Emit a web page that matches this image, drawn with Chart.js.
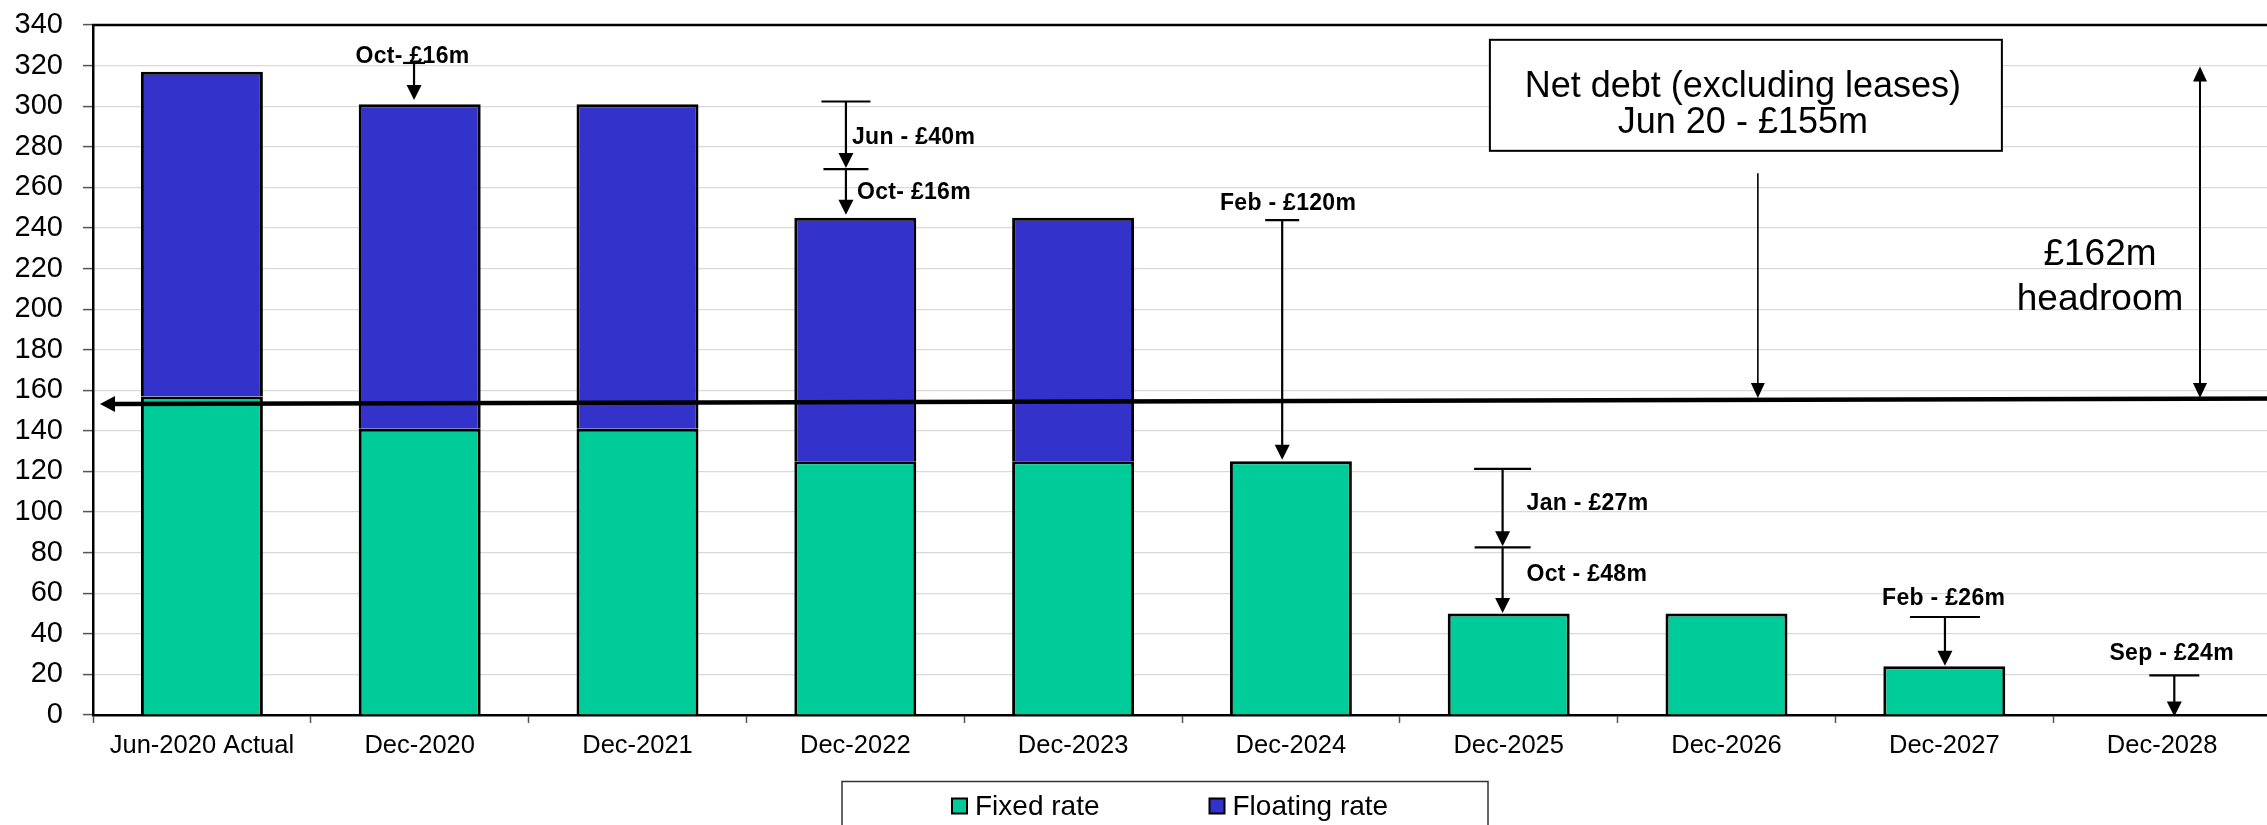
<!DOCTYPE html>
<html>
<head>
<meta charset="utf-8">
<title>Debt maturity profile</title>
<script src="https://cdn.jsdelivr.net/npm/chart.js@4/dist/chart.umd.min.js"></script>
<style>
  html, body { margin: 0; padding: 0; background: #fff; overflow: hidden; }
  #wrap { width: 2300px; height: 825px; }
</style>
</head>
<body>
<div id="wrap"><canvas id="debtChart" width="2300" height="825"></canvas></div>
<script>
// facility amounts (£m) at each date
const categories = ["Jun-2020 Actual", "Dec-2020", "Dec-2021", "Dec-2022", "Dec-2023",
                    "Dec-2024", "Dec-2025", "Dec-2026", "Dec-2027", "Dec-2028"];
const fixedRate    = [157, 141, 141, 125, 125, 125, 50, 50, 24, 0];
const floatingRate = [160, 160, 160, 120, 120, 0, 0, 0, 0, 0];
const yMax = 340;
const yStep = 20;

// repayment arrows: category position, start value, end value, cap width (px)
const repaymentArrows = [
  { at: 0.974, from: 321.3, to: 303.0, cap: 22 },
  { at: 2.957, from: 302.3, to: 269.5, cap: 49 },
  { at: 2.957, from: 269.0, to: 246.5, cap: 45 },
  { at: 4.960, from: 243.9, to: 125.8, cap: 34 },
  { at: 5.972, from: 121.3, to: 83.2, cap: 57 },
  { at: 5.972, from: 82.6, to: 50.2, cap: 56 },
  { at: 8.003, from: 48.3, to: 24.3, cap: 70 },
  { at: 9.056, from: 19.5, to: -0.7, cap: 50 }
];
const repaymentLabels = [
  { text: "Oct- £16m", at: 0.967, base: 321.2, align: "center" },
  { text: "Jun - £40m", at: 2.985, base: 281.5, align: "left" },
  { text: "Oct- £16m", at: 3.008, base: 254.2, align: "left" },
  { text: "Feb - £120m", at: 4.987, base: 248.9, align: "center" },
  { text: "Jan - £27m", at: 6.082, base: 100.8, align: "left" },
  { text: "Oct - £48m", at: 6.082, base: 66.2, align: "left" },
  { text: "Feb - £26m", at: 7.997, base: 54.3, align: "center" },
  { text: "Sep - £24m", at: 9.044, base: 27.2, align: "center" }
];

// net debt level line and the callouts around it
const netDebtLine = { from: [-0.468, 153.2], to: [9.6, 155.9] };
const netDebtBox = { at: 7.089, width: 512, top: 332.7, bottom: 278.0,
                     lines: ["Net debt (excluding leases)", "Jun 20 - £155m"], bases: [304.3, 286.7] };
const netDebtPointer = { at: 7.144, from: 267.0, to: 156.2 };
const headroom = { at: 9.174, from: 156.2, to: 319.5, textAt: 8.715,
                   lines: ["£162m", "headroom"], bases: [221.5, 199.4] };

const FONT = "'Liberation Sans', Arial, Helvetica, sans-serif";
const GREEN = "#00CC99";
const BLUE = "#3333CC";

function arrowHead(ctx, x, yTip, dir, len, half) {
  ctx.beginPath();
  ctx.moveTo(x, yTip);
  ctx.lineTo(x - half, yTip - dir * len);
  ctx.lineTo(x + half, yTip - dir * len);
  ctx.closePath();
  ctx.fill();
}

function vArrow(ctx, x, y0, y1, len, half) {
  const dir = y1 > y0 ? 1 : -1;
  ctx.beginPath();
  ctx.moveTo(x, y0);
  ctx.lineTo(x, y1 - dir * (len - 1));
  ctx.stroke();
  arrowHead(ctx, x, y1, dir, len, half);
}

const notesPlugin = {
  id: "notes",
  afterDatasetsDraw(chart) {
    const { ctx, chartArea: area, scales: { x, y } } = chart;
    ctx.save();
    ctx.strokeStyle = "#000";
    ctx.fillStyle = "#000";

    // top edge of the plot frame
    ctx.lineWidth = 2.5;
    ctx.beginPath();
    ctx.moveTo(area.left - 1, area.top);
    ctx.lineTo(area.right + 2, area.top);
    ctx.stroke();

    // thick net debt line, arrow pointing at the axis
    const lx0 = x.getPixelForValue(netDebtLine.from[0]);
    const ly0 = y.getPixelForValue(netDebtLine.from[1]);
    const lx1 = x.getPixelForValue(netDebtLine.to[0]);
    const ly1 = y.getPixelForValue(netDebtLine.to[1]);
    ctx.lineWidth = 4.5;
    ctx.beginPath();
    ctx.moveTo(lx0 + 12, ly0);
    ctx.lineTo(lx1, ly1);
    ctx.stroke();
    ctx.beginPath();
    ctx.moveTo(lx0, ly0);
    ctx.lineTo(lx0 + 15, ly0 - 8);
    ctx.lineTo(lx0 + 15, ly0 + 8);
    ctx.closePath();
    ctx.fill();

    // repayment arrows with caps
    ctx.lineWidth = 2.2;
    repaymentArrows.forEach(a => {
      const px = x.getPixelForValue(a.at);
      const y0 = y.getPixelForValue(a.from);
      const y1 = y.getPixelForValue(a.to);
      ctx.beginPath();
      ctx.moveTo(px - a.cap / 2, y0);
      ctx.lineTo(px + a.cap / 2, y0);
      ctx.stroke();
      vArrow(ctx, px, y0, y1, 15, 7.5);
    });

    ctx.font = "bold 23px " + FONT;
    ctx.letterSpacing = "0.3px";
    ctx.textBaseline = "alphabetic";
    repaymentLabels.forEach(l => {
      ctx.textAlign = l.align;
      ctx.fillText(l.text, x.getPixelForValue(l.at), y.getPixelForValue(l.base));
    });
    ctx.letterSpacing = "0px";

    // net debt text box and its pointer
    const bx = x.getPixelForValue(netDebtBox.at);
    const bTop = y.getPixelForValue(netDebtBox.top);
    const bBottom = y.getPixelForValue(netDebtBox.bottom);
    ctx.fillStyle = "#fff";
    ctx.fillRect(bx - netDebtBox.width / 2, bTop, netDebtBox.width, bBottom - bTop);
    ctx.lineWidth = 2;
    ctx.strokeRect(bx - netDebtBox.width / 2, bTop, netDebtBox.width, bBottom - bTop);
    ctx.fillStyle = "#000";
    ctx.font = "36px " + FONT;
    ctx.textAlign = "center";
    netDebtBox.lines.forEach((t, i) => {
      ctx.fillText(t, bx - 3, y.getPixelForValue(netDebtBox.bases[i]));
    });

    ctx.lineWidth = 1.6;
    vArrow(ctx, x.getPixelForValue(netDebtPointer.at),
      y.getPixelForValue(netDebtPointer.from), y.getPixelForValue(netDebtPointer.to), 15, 7);

    // headroom double arrow
    const hx = x.getPixelForValue(headroom.at);
    const hy0 = y.getPixelForValue(headroom.from);
    const hy1 = y.getPixelForValue(headroom.to);
    ctx.lineWidth = 2;
    ctx.beginPath();
    ctx.moveTo(hx, hy0 - 14);
    ctx.lineTo(hx, hy1 + 14);
    ctx.stroke();
    arrowHead(ctx, hx, hy0, 1, 15, 7);
    arrowHead(ctx, hx, hy1, -1, 15, 7);
    ctx.font = "37px " + FONT;
    headroom.lines.forEach((t, i) => {
      ctx.fillText(t, x.getPixelForValue(headroom.textAt), y.getPixelForValue(headroom.bases[i]));
    });
    ctx.restore();
  },
  afterDraw(chart) {
    // legend in a frame below the axis labels
    const { ctx } = chart;
    ctx.save();
    ctx.strokeStyle = "#333";
    ctx.lineWidth = 1.5;
    ctx.strokeRect(842, 781.5, 646, 80);
    const items = [
      { x: 952, text: chart.data.datasets[0].label, color: chart.data.datasets[0].backgroundColor },
      { x: 1209.5, text: chart.data.datasets[1].label, color: chart.data.datasets[1].backgroundColor }
    ];
    ctx.font = "28px " + FONT;
    ctx.textAlign = "left";
    ctx.textBaseline = "alphabetic";
    items.forEach(it => {
      ctx.fillStyle = it.color;
      ctx.fillRect(it.x, 798.5, 15, 15);
      ctx.lineWidth = 2;
      ctx.strokeStyle = "#000";
      ctx.strokeRect(it.x, 798.5, 15, 15);
      ctx.fillStyle = "#000";
      ctx.fillText(it.text, it.x + 23, 815);
    });
    ctx.restore();
  }
};

const ctx = document.getElementById("debtChart").getContext("2d");
new Chart(ctx, {
  type: "bar",
  data: {
    labels: categories,
    datasets: [
      {
        label: "Fixed rate",
        data: fixedRate,
        backgroundColor: GREEN,
        borderColor: "#000",
        borderWidth: c => (c.raw ? 3 : 0),
        borderSkipped: "start",
        inflateAmount: 0
      },
      {
        label: "Floating rate",
        data: floatingRate,
        backgroundColor: BLUE,
        borderColor: "#000",
        borderWidth: c => (c.raw ? 3 : 0),
        borderSkipped: "start",
        inflateAmount: 0
      }
    ]
  },
  options: {
    responsive: false,
    animation: false,
    devicePixelRatio: 1,
    layout: { padding: { top: 25, right: 29, left: 0, bottom: 0 } },
    categoryPercentage: 1,
    barPercentage: 0.56,
    plugins: {
      legend: { display: false },
      tooltip: { enabled: false }
    },
    scales: {
      x: {
        stacked: true,
        afterFit: s => { s.height = 110; },
        grid: { display: true, drawOnChartArea: false, offset: true, tickLength: 8, tickColor: "#555", tickWidth: 1.5 },
        border: { display: true, color: "#000", width: 2.5 },
        ticks: {
          color: "#000",
          font: { family: FONT, size: 25.5 },
          padding: 8,
          autoSkip: false,
          maxRotation: 0
        }
      },
      y: {
        stacked: true,
        min: 0,
        max: yMax,
        afterFit: s => {
          s.width = 93;
          // keep the label padding from pushing the plot top down
          s.paddingTop = 0;
          s.paddingBottom = 0;
        },
        grid: { color: "#d9d9d9", lineWidth: 1.2, tickLength: 10, tickColor: "#555", tickWidth: 1.5 },
        border: { display: true, color: "#000", width: 2.5 },
        ticks: {
          stepSize: yStep,
          color: "#000",
          font: { family: FONT, size: 29 },
          padding: 20
        }
      }
    }
  },
  plugins: [notesPlugin]
});
</script>
</body>
</html>
